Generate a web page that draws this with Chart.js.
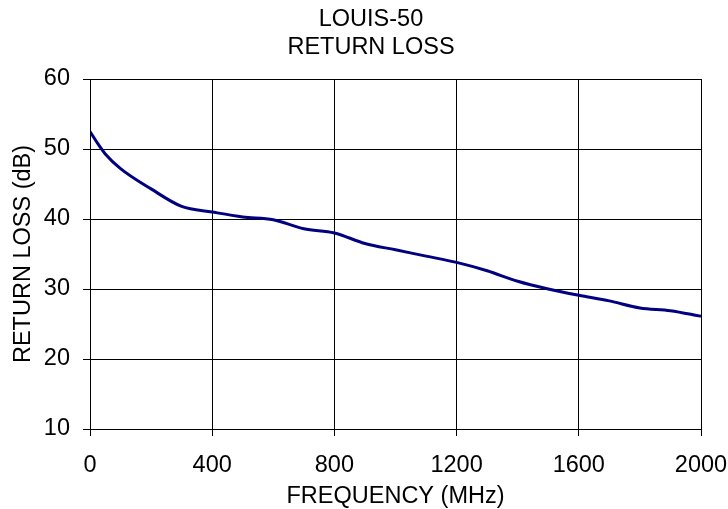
<!DOCTYPE html>
<html>
<head>
<meta charset="utf-8">
<script src="https://cdn.jsdelivr.net/npm/chart.js@4/dist/chart.umd.min.js"></script>
<style>
  html, body { margin: 0; padding: 0; background: #fff; }
  #wrap { width: 728px; height: 509px; }
</style>
</head>
<body>
<div id="wrap"><canvas id="chart" width="728" height="509"></canvas></div>
<script>
// Return loss curve
const freqMHz = [0, 25, 50, 100, 200, 300, 400, 500, 600, 700, 800, 900, 1000,
                 1100, 1200, 1300, 1400, 1500, 1600, 1700, 1800, 1900, 2000];
const returnLossDb = [52.5, 50.8, 49.3, 47.2, 44.3, 41.8, 41.0, 40.3, 39.9, 38.6, 38.0, 36.5, 35.6,
                      34.7, 33.8, 32.6, 31.1, 30.0, 29.1, 28.3, 27.3, 26.9, 26.1];
const xTicks = [0, 400, 800, 1200, 1600, 2000];
const yTicks = [10, 20, 30, 40, 50, 60];

const fontFamily = '"Liberation Sans", Arial, sans-serif';
const fontSize = 23.5;

const points = freqMHz.map((f, i) => ({ x: f, y: returnLossDb[i] }));

new Chart(document.getElementById('chart').getContext('2d'), {
    type: 'scatter',
    data: {
        datasets: [{
            label: 'Return loss',
            data: points,
            showLine: true,
            borderColor: '#000080',
            borderWidth: 3,
            pointRadius: 0,
            cubicInterpolationMode: 'monotone',
            fill: false
        }]
    },
    options: {
        responsive: false,
        animation: false,
        layout: { padding: { left: 14, right: 0, top: 0, bottom: 0 } },
        plugins: {
            legend: { display: false },
            tooltip: { enabled: false },
            title: {
                display: true,
                text: ['LOUIS-50', 'RETURN LOSS'],
                color: '#000',
                font: { family: fontFamily, size: fontSize, weight: 'normal', lineHeight: '28px' },
                padding: { top: 6, bottom: 17 }
            }
        },
        scales: {
            x: {
                type: 'linear',
                min: 0,
                max: 2000,
                afterBuildTicks: (scale) => { scale.ticks = xTicks.map(v => ({ value: v })); },
                afterFit: (scale) => {
                    scale.height = 80;
                    scale.paddingLeft = 0;
                    scale.paddingRight = 27;
                },
                ticks: {
                    color: '#000',
                    font: { family: fontFamily, size: fontSize },
                    padding: 15,
                    maxRotation: 0,
                    callback: (v) => String(v)
                },
                grid: { color: '#000', lineWidth: 1, tickLength: 7 },
                border: { color: '#000', width: 1 },
                title: {
                    display: true,
                    text: 'FREQUENCY (MHz)',
                    color: '#000',
                    font: { family: fontFamily, size: fontSize, lineHeight: 1 },
                    padding: { top: 0, bottom: 1 }
                }
            },
            y: {
                type: 'linear',
                min: 10,
                max: 60,
                afterBuildTicks: (scale) => { scale.ticks = yTicks.map(v => ({ value: v })); },
                afterFit: (scale) => { scale.width = 76; },
                ticks: {
                    color: '#000',
                    font: { family: fontFamily, size: fontSize },
                    padding: 13,
                    callback: (v) => String(v)
                },
                grid: { color: '#000', lineWidth: 1, tickLength: 7 },
                border: { color: '#000', width: 1 },
                title: {
                    display: true,
                    text: 'RETURN LOSS (dB)',
                    color: '#000',
                    font: { family: fontFamily, size: fontSize, lineHeight: 0.8 },
                    padding: { top: 0, bottom: 0 }
                }
            }
        }
    },
    plugins: [{
        // right and top frame of the plot area
        id: 'frame',
        afterDraw(chart) {
            const { ctx, chartArea: a } = chart;
            ctx.save();
            ctx.strokeStyle = '#000';
            ctx.lineWidth = 1;
            ctx.strokeRect(a.left + 0.5, a.top + 0.5, a.right - a.left, a.bottom - a.top);
            ctx.restore();
        }
    }]
});
</script>
</body>
</html>
